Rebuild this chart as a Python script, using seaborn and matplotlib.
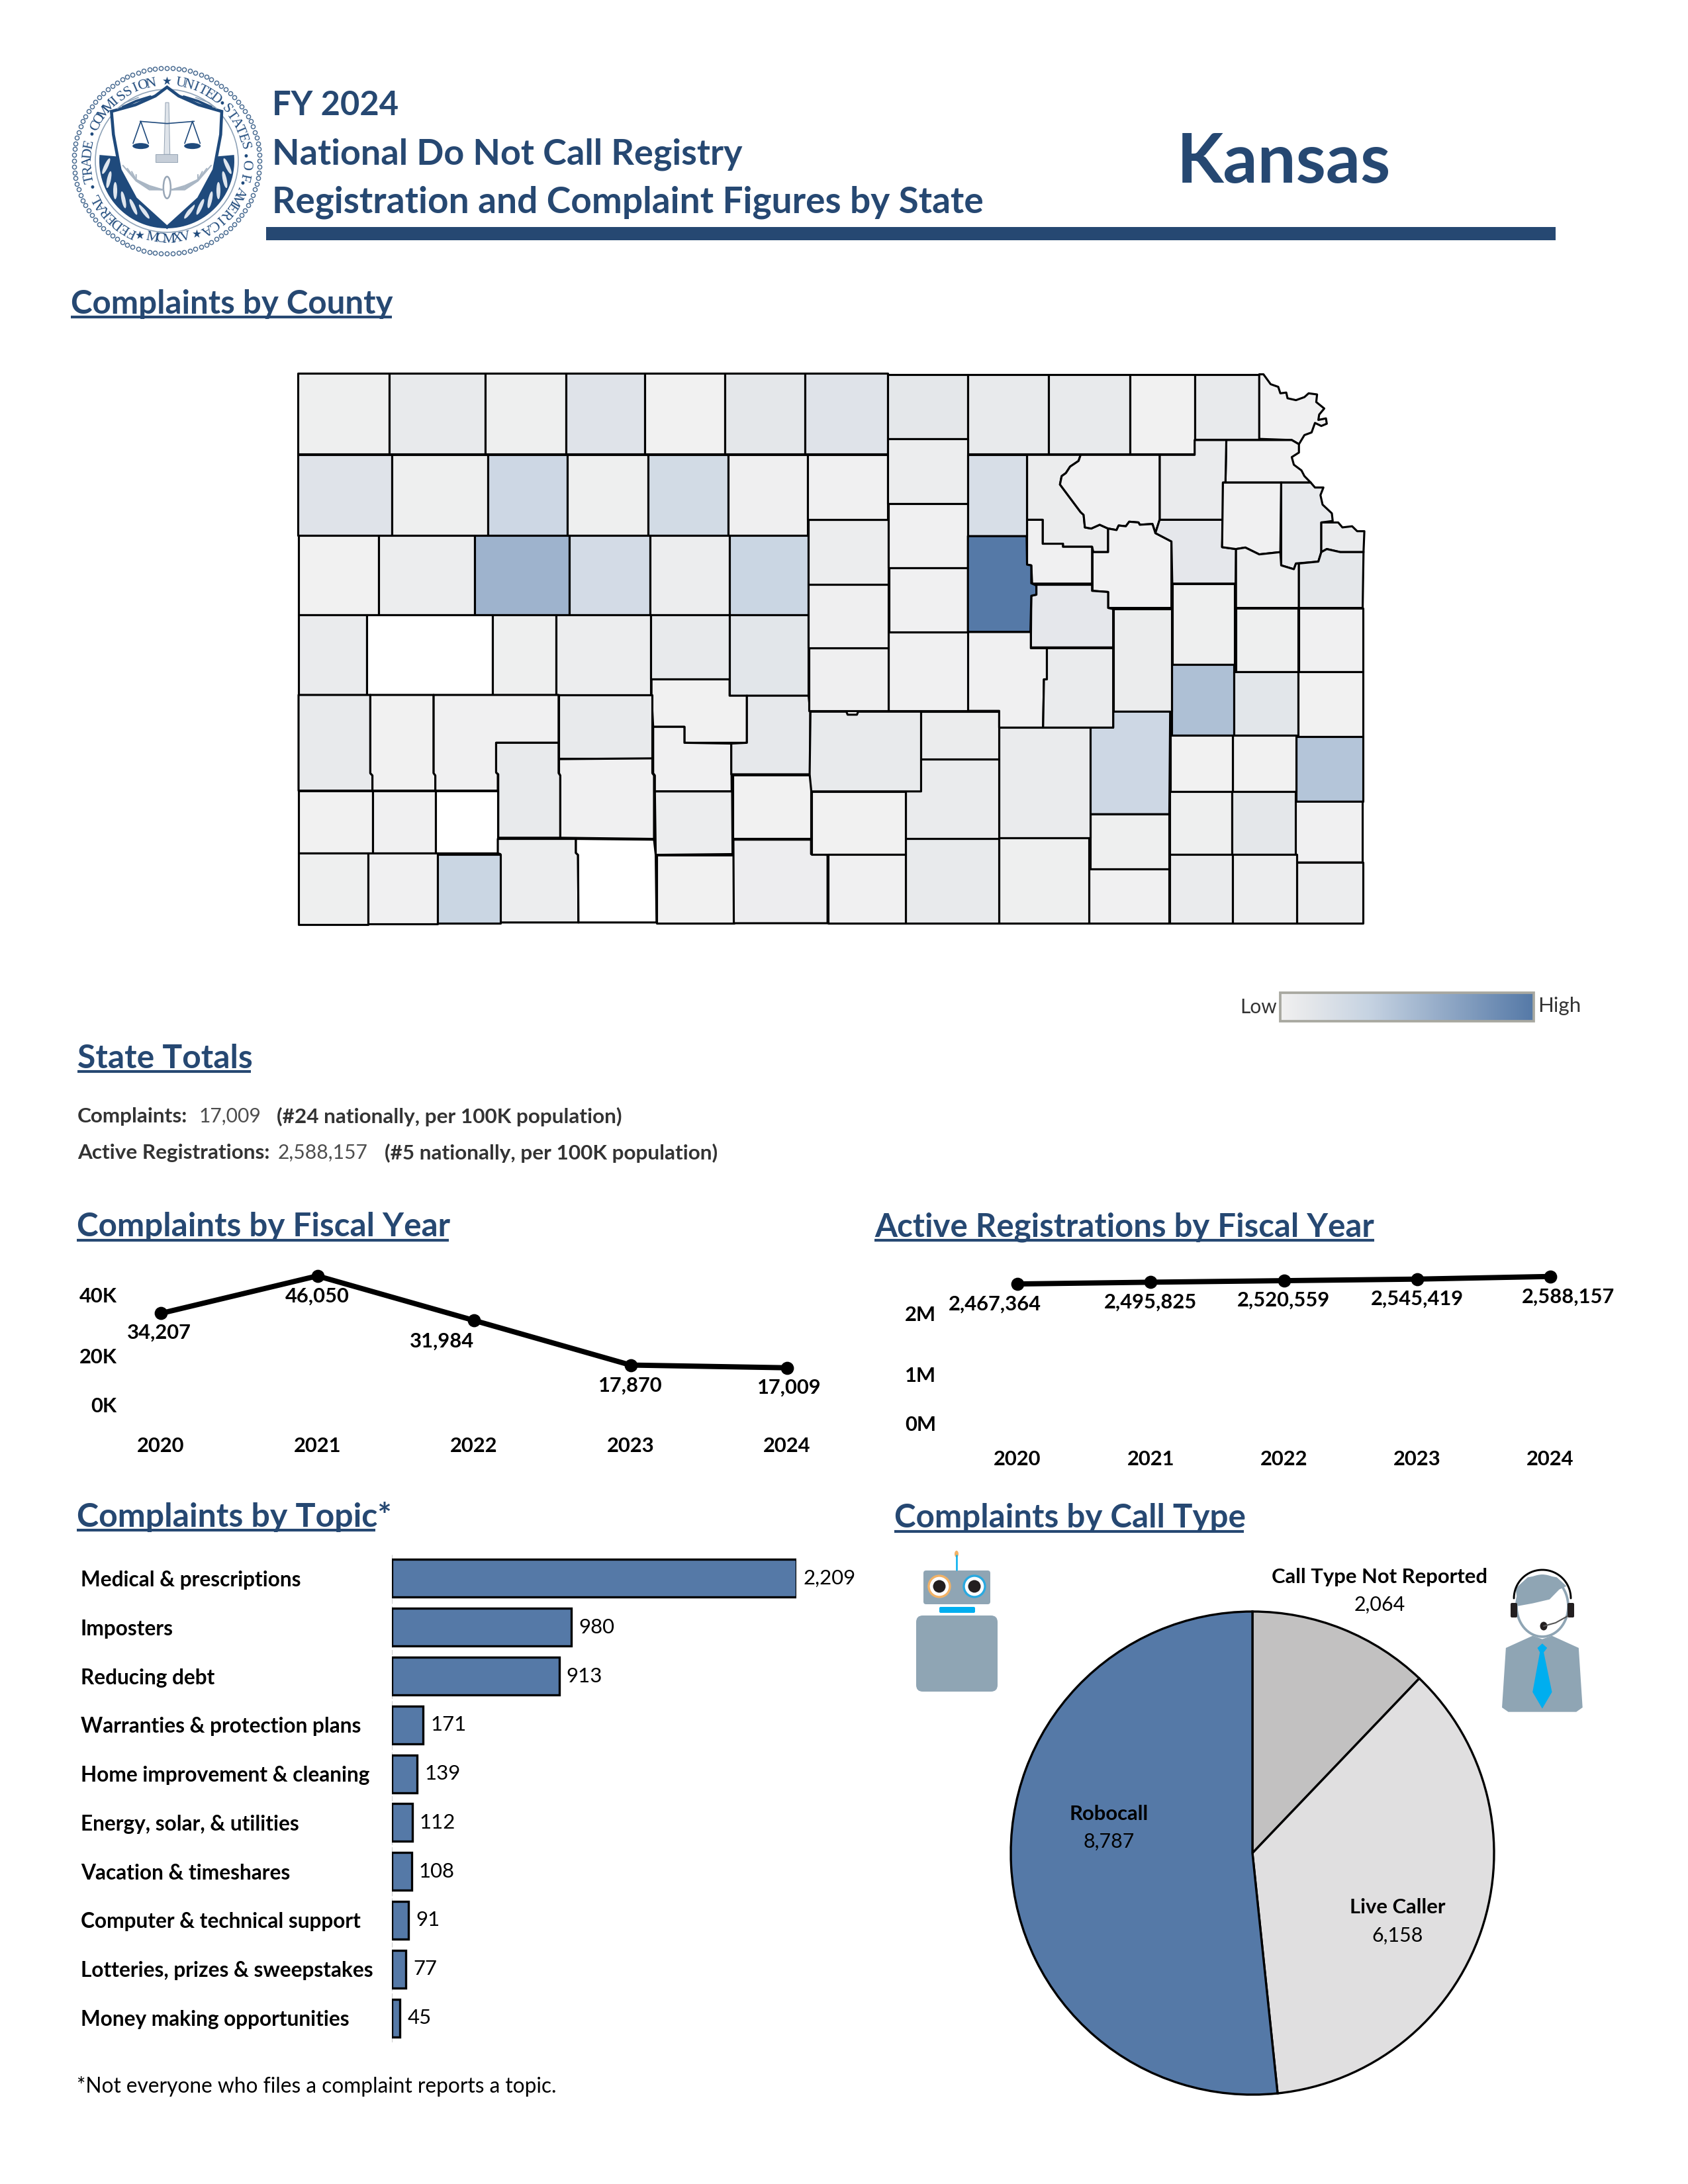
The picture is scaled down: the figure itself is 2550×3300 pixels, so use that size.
import numpy as np
import pandas as pd
import seaborn as sns
import matplotlib.pyplot as plt
from matplotlib.collections import PolyCollection
from matplotlib.colors import LinearSegmentedColormap, Normalize
from matplotlib.font_manager import FontProperties
from matplotlib.patches import Circle, Ellipse, FancyBboxPatch, Polygon, Rectangle
from matplotlib.textpath import TextPath
from matplotlib.transforms import ScaledTranslation

# data
years = [2020, 2021, 2022, 2023, 2024]
complaints_by_year = [34207, 46050, 31984, 17870, 17009]
registrations_by_year = [2467364, 2495825, 2520559, 2545419, 2588157]
topics = ['Medical & prescriptions', 'Imposters', 'Reducing debt', 'Warranties & protection plans',
          'Home improvement & cleaning', 'Energy, solar, & utilities', 'Vacation & timeshares',
          'Computer & technical support', 'Lotteries, prizes & sweepstakes', 'Money making opportunities']
topic_counts = [2209, 980, 913, 171, 139, 112, 108, 91, 77, 45]
call_types = ['Call Type Not Reported', 'Live Caller', 'Robocall']
call_counts = [2064, 6158, 8787]

NAVY = '#264872'
BLUE = '#5579a7'
DPI = 300


def R(x0, y0, x1, y1):
    return [(x0, y0), (x1, y0), (x1, y1), (x0, y1)]


# county shapes as (shade, outline), traced in two crops of the page
nan = np.nan
west_counties = [
    (.03, R(78, 60, 295, 272)), (.08, R(295, 60, 522, 272)), (.03, R(522, 60, 713, 272)),
    (.16, R(713, 60, 900, 272)), (.005, R(900, 60, 1090, 272)), (.12, R(1090, 60, 1280, 272)),
    (.16, R(1280, 60, 1475, 272)),
    (.16, R(78, 274, 301, 486)), (.03, R(301, 274, 528, 486)), (.3, R(528, 274, 717, 486)),
    (.03, R(717, 274, 908, 486)), (.26, R(908, 274, 1097, 486)), (.02, R(1097, 274, 1286, 486)),
    (0, R(80, 486, 270, 696)), (.045, R(270, 486, 497, 696)), (.58, R(497, 486, 722, 696)),
    (.25, R(722, 486, 912, 696)), (.05, R(912, 486, 1100, 696)), (.32, R(1100, 486, 1287, 696)),
    (.07, R(80, 696, 242, 906)), (nan, R(242, 696, 540, 906)), (.03, R(540, 696, 690, 906)),
    (.05, R(690, 696, 914, 906)), (.08, R(914, 696, 1101, 865)), (.13, R(1101, 696, 1288, 908)),
    (.005, [(916, 865), (1101, 865), (1101, 908), (1142, 908), (1142, 1032), (994, 1032), (994, 990), (920, 990), (916, 906)]),
    (.08, [(80, 906), (250, 906), (250, 1112), (255, 1118), (255, 1158), (80, 1158)]),
    (.005, [(250, 906), (400, 906), (400, 1112), (404, 1118), (404, 1158), (255, 1158), (255, 1118), (250, 1112)]),
    (.01, [(400, 906), (696, 906), (696, 1032), (548, 1032), (548, 1110), (552, 1115), (552, 1158), (404, 1158), (404, 1118), (400, 1112)]),
    (.08, [(548, 1032), (696, 1032), (696, 1112), (700, 1118), (700, 1282), (553, 1282), (553, 1115), (548, 1110)]),
    (.08, R(696, 906, 918, 1073)),
    (.01, [(697, 1075), (918, 1073), (918, 1112), (922, 1118), (922, 1285), (700, 1282), (700, 1118), (697, 1112)]),
    (.01, [(920, 990), (994, 990), (994, 1032), (1105, 1034), (1106, 1160), (924, 1160), (924, 1118), (920, 1112)]),
    (.1, [(1142, 908), (1288, 908), (1292, 950), (1292, 1115), (1105, 1115), (1105, 1034), (1142, 1032)]),
    (.05, [(924, 1160), (1107, 1160), (1108, 1325), (926, 1327)]),
    (0, R(1108, 1117, 1294, 1284)),
    (0, R(80, 1158, 255, 1323)), (.01, R(255, 1158, 404, 1323)), (nan, R(404, 1158, 552, 1323)),
    (.045, [(552, 1285), (737, 1285), (737, 1322), (742, 1327), (743, 1505), (558, 1505), (558, 1325), (552, 1323)]),
    (nan, [(737, 1285), (922, 1287), (926, 1327), (928, 1505), (743, 1505), (742, 1327), (737, 1322)]),
    (.03, R(80, 1323, 245, 1510)), (.01, R(245, 1323, 410, 1508)), (.32, R(410, 1325, 558, 1507)),
    (.005, R(928, 1327, 1111, 1507)),
    (.04, [(1110, 1287), (1294, 1287), (1294, 1325), (1333, 1327), (1333, 1507), (1111, 1507)]),
]
east_counties = [
    (.12, R(378, 62, 568, 232)), (.08, R(568, 62, 759, 272)), (.08, R(759, 62, 951, 272)),
    (.005, R(951, 62, 1105, 272)), (.08, R(1105, 62, 1258, 234)),
    (.01, [(1258, 62), (1268, 62), (1285, 88), (1303, 95), (1308, 112), (1322, 110), (1325, 125), (1345, 130), (1365, 122),
           (1375, 112), (1395, 115), (1393, 135), (1412, 152), (1400, 168), (1398, 182), (1416, 178), (1418, 192), (1405, 198),
           (1390, 190), (1382, 215), (1365, 222), (1352, 246), (1335, 235), (1258, 232)]),
    (.01, [(1180, 235), (1335, 235), (1352, 246), (1352, 268), (1335, 280), (1340, 300), (1358, 315), (1365, 330), (1380, 347), (1178, 347)]),
    (.07, [(1022, 274), (1105, 274), (1105, 235), (1180, 235), (1178, 347), (1172, 347), (1172, 445), (1022, 445)]),
    (.06, [(708, 274), (835, 274), (830, 290), (810, 305), (800, 322), (790, 330), (786, 352), (835, 425), (842, 432), (845, 465),
           (860, 468), (880, 458), (900, 468), (900, 530), (865, 530), (862, 516), (793, 516), (793, 508), (745, 508), (745, 445), (708, 445)]),
    (.01, [(835, 274), (1022, 274), (1022, 445), (1012, 480), (1005, 456), (975, 458), (972, 452), (950, 450), (942, 462), (925, 460),
           (920, 472), (900, 468), (880, 458), (860, 468), (845, 465), (842, 432), (835, 425), (786, 352), (790, 330), (800, 322), (810, 305), (830, 290)]),
    (.01, [(900, 468), (920, 472), (925, 460), (942, 462), (950, 450), (972, 452), (975, 458), (1005, 456), (1012, 480), (1050, 502),
           (1050, 677), (900, 677), (900, 635), (863, 632), (863, 530), (900, 530)]),
    (.01, [(708, 445), (745, 445), (745, 508), (793, 508), (793, 516), (862, 516), (862, 613), (720, 613), (718, 565), (708, 563)]),
    (.11, [(720, 616), (862, 616), (862, 632), (900, 635), (900, 677), (912, 680), (912, 781), (717, 781), (718, 645), (730, 642), (730, 618)]),
    (.11, [(1022, 445), (1172, 445), (1170, 517), (1203, 522), (1202, 613), (1052, 613), (1050, 502), (1012, 480)]),
    (.01, [(1172, 347), (1310, 347), (1308, 530), (1258, 536), (1225, 518), (1203, 522), (1170, 517)]),
    (.09, [(1310, 347), (1380, 347), (1390, 360), (1410, 360), (1403, 380), (1408, 405), (1430, 428), (1432, 448), (1405, 452),
           (1405, 530), (1398, 555), (1345, 560), (1340, 575), (1310, 565)]),
    (.07, [(1405, 452), (1445, 452), (1455, 465), (1478, 462), (1490, 475), (1507, 475), (1505, 530), (1450, 530), (1418, 522), (1405, 530)]),
    (.05, [(1203, 522), (1225, 518), (1258, 536), (1308, 530), (1310, 565), (1340, 575), (1345, 560), (1352, 560), (1352, 677), (1203, 677)]),
    (.12, [(1352, 560), (1398, 555), (1405, 530), (1418, 522), (1450, 530), (1505, 530), (1503, 677), (1352, 677)]),
    (.03, R(1052, 613, 1200, 825)), (.49, R(1050, 825, 1198, 1012)), (.03, R(1203, 677, 1350, 845)),
    (.01, R(1352, 677, 1503, 845)), (.13, R(1198, 845, 1350, 1012)), (.005, R(1350, 845, 1503, 1015)),
    (.45, R(1345, 1015, 1503, 1187)),
    (.01, [(1343, 1187), (1503, 1187), (1503, 1347), (1347, 1347), (1343, 1325)]),
    (.05, R(1347, 1347, 1503, 1507)), (.005, R(1195, 1012, 1345, 1160)), (.005, R(1047, 1012, 1195, 1160)),
    (.03, R(1046, 1160, 1193, 1325)), (.12, R(1193, 1160, 1343, 1325)), (.07, R(1046, 1325, 1195, 1507)),
    (.05, R(1195, 1325, 1347, 1507)), (.06, R(912, 680, 1050, 950)),
    (.3, [(912, 950), (1047, 950), (1045, 1220), (857, 1220), (857, 992), (912, 992)]),
    (.03, R(857, 1220, 1045, 1365)), (.01, R(855, 1365, 1045, 1507)), (.07, R(642, 992, 857, 1282)),
    (.03, R(642, 1282, 855, 1507)), (.08, R(421, 1284, 642, 1507)), (.07, R(420, 1075, 642, 1284)),
    (.06, R(457, 950, 642, 1075)),
    (.08, [(195, 950), (280, 950), (283, 958), (305, 958), (308, 950), (457, 950), (457, 1160), (197, 1160), (193, 1115)]),
    (0, R(197, 1160, 420, 1325)), (.01, R(237, 1325, 421, 1507)),
    (.01, [(568, 740), (717, 740), (717, 783), (755, 783), (755, 865), (748, 865), (746, 992), (642, 992), (642, 948), (568, 948)]),
    (.07, [(755, 783), (912, 783), (912, 992), (746, 992), (748, 865), (755, 865)]),
    (.01, R(380, 740, 568, 948)), (.02, R(192, 783, 380, 948)), (.02, R(190, 615, 380, 783)),
    (.05, R(190, 445, 380, 615)), (.01, R(188, 274, 378, 445)), (.05, R(378, 232, 568, 402)),
    (.01, R(380, 402, 568, 572)), (.01, R(381, 572, 568, 740)), (.22, R(568, 274, 707, 488)),
    (1, [(568, 488), (707, 488), (708, 563), (718, 565), (718, 612), (730, 618), (730, 642), (718, 645), (716, 740), (568, 740)]),
]

sns.set_theme(style='white')
plt.rcParams['font.family'] = ['Lato', 'DejaVu Sans']

fig = plt.figure(figsize=(8.5, 11), dpi=DPI)


def ax_px(x0, y0, x1, y1):
    # axes from page pixels
    return fig.add_axes([x0 / 2550, 1 - y1 / 3300, (x1 - x0) / 2550, (y1 - y0) / 3300])


def fit(s, px, weight='bold'):
    # font size that makes the string px wide
    fp = FontProperties(family='Lato', weight=weight)
    w = TextPath((0, 0), s, size=10, prop=fp).get_extents().width
    return 10 * px * 72 / DPI / w


page = fig.add_axes([0, 0, 1, 1], zorder=10)
page.set_xlim(0, 2550)
page.set_ylim(3300, 0)
page.axis('off')


def put(x, y, s, size, weight='normal', color='black', ha='left', **kw):
    return page.text(x, y, s, fontsize=size, fontweight=weight, color=color, ha=ha, va='center', **kw)


def heading(s, x, y, width, ul=None):
    put(x, y, s, fit(s, width), 'bold', NAVY)
    page.plot([x, x + (ul or width)], [y + 20, y + 20], color=NAVY, lw=1.0, solid_capstyle='butt')


# ---- header
put(411, 159, 'FY 2024', fit('FY 2024', 186), 'bold', NAVY)
put(411, 233, 'National Do Not Call Registry', fit('National Do Not Call Registry', 706), 'bold', NAVY)
put(411, 306, 'Registration and Complaint Figures by State', fit('Registration and Complaint Figures by State', 1070), 'bold', NAVY)
put(1778, 246, 'Kansas', fit('Kansas', 312), 'bold', NAVY)
page.add_patch(Rectangle((402, 343), 1948, 20, color=NAVY, lw=0))

# ---- seal
SEAL = '#1f4a7c'
cx, cy = 252, 243
beads = np.radians(np.arange(0, 360, 3.6))
page.scatter(cx + 140 * np.sin(beads), cy + 140 * np.cos(beads), s=2.2, fc='white', ec='#45688f', lw=0.35)
page.add_patch(Circle((cx, cy), 108, fc='none', ec='#8fa3b8', lw=0.4))


def seal_word(word, start, step, r=119):
    for i, ch in enumerate(word):
        th = start + i * step
        a = np.radians(th)
        rot = 180 - th if step < 0 else -th
        page.text(cx + r * np.sin(a), cy - r * np.cos(a), ch, fontsize=5.2, family='Liberation Serif',
                  color=SEAL, ha='center', va='center', rotation=rot, rotation_mode='anchor')


seal_word('FEDERAL', 206, 6)
seal_word('TRADE', 257, 6.2)
seal_word('COMMISSION', 296, 5.8)
seal_word('UNITED', 10, 5.6)
seal_word('STATES', 49, 6)
seal_word('OF', 93, 9)
seal_word('AMERICA', 113, 6.2)
seal_word('MCMXV', 191, -6.2)
for th, mark in [(0, '★'), (158, '★'), (200, '★'), (44, '•'), (87, '•'), (107, '•'), (250, '•'), (289, '•')]:
    a = np.radians(th)
    page.text(cx + 120 * np.sin(a), cy - 120 * np.cos(a), mark, fontsize=4, color=SEAL, ha='center', va='center',
              family='DejaVu Sans')


def sz(pts):
    # seal crop to page
    return [(100 + x / 3, 90 + y / 3) for x, y in pts]


# dark band and leaves behind the shield
band = np.radians(np.linspace(85, 275, 60))
page.add_patch(Polygon([(cx, cy)] + list(zip(cx + 102 * np.sin(band), cy - 102 * np.cos(band))), fc=SEAL, ec='none'))
for side in (-1, 1):
    for th, rr in [(95, 92), (108, 92), (120, 90), (132, 88), (144, 86), (156, 84), (168, 84)]:
        a = np.radians(th)
        page.add_patch(Ellipse((cx + side * rr * np.sin(a), cy - rr * np.cos(a)), 26, 6,
                               angle=side * (th - 30), fc='#dfe6ee', ec='none'))
    page.plot(*zip(*sz([(457 + side * 75, 168), (457 + side * 140, 188), (457 + side * 200, 215)])), color=SEAL, lw=0.9)
    page.plot(*zip(*sz([(457 + side * 130, 172), (457 + side * 190, 195), (457 + side * 225, 222)])), color='#8fa3b8', lw=0.4)
page.add_patch(Polygon(sz([(457, 125), (510, 165), (600, 205), (705, 235), (700, 340), (670, 500), (600, 630), (457, 760),
                           (314, 630), (244, 500), (214, 340), (205, 235), (314, 205), (404, 165)]),
                       fc='white', ec=SEAL, lw=1.1, joinstyle='miter'))
# scales
page.add_patch(Polygon(sz([(450, 195), (465, 195), (470, 430), (444, 430)]), fc='#dfe4ea', ec='#98a6b6', lw=0.25))
page.add_patch(Rectangle(sz([(405, 430)])[0], 33, 12, fc='#c6ced8', ec='#98a6b6', lw=0.25))
page.plot(*zip(*sz([(335, 280), (457, 290), (580, 280)])), color=SEAL, lw=0.4)
for x_ in (338, 572):
    page.plot(*zip(*sz([(x_ - 35, 380), (x_, 280), (x_ + 35, 380)])), color=SEAL, lw=0.4)
    page.add_patch(Ellipse(sz([(x_, 392)])[0], 25, 9, fc=SEAL, ec='none'))
# wings
for side in (-1, 1):
    for k in range(4):
        wx = 457 + side * np.array([20, 80, 140, 200 - k * 20])
        wy = np.array([590, 560 - k * 6 + 30, 540 - k * 2 + 10, 480 + k * 14])
        page.plot(*zip(*sz(list(zip(wx, wy)))), color='#a9b6c4', lw=0.5)
page.add_patch(Ellipse(sz([(457, 580)])[0], 11, 33, fc='none', ec='#98a6b6', lw=0.6))

# ---- county map
heading('Complaints by County', 107, 459, 485)
FX, FY = 1000 / 1568, 900 / 1568
polys = [[(400 + FX * x, 530 + FY * y) for x, y in p] for _, p in west_counties]
polys += [[(1100 + FX * x, 530 + FY * y) for x, y in p] for _, p in east_counties]
shades = [s for s, _ in west_counties] + [s for s, _ in east_counties]
cmap = LinearSegmentedColormap.from_list('ftc', [(0, '#f1f1f1'), (.1, '#e6e8eb'), (.35, '#c6d3e2'), (1, BLUE)])
cmap.set_bad('white')
page.add_collection(PolyCollection(polys, array=np.array(shades), cmap=cmap, norm=Normalize(0, 1),
                                   edgecolors='black', linewidths=0.75, zorder=1))

# legend of the map
page.imshow(np.linspace(0, 1, 256).reshape(1, -1), cmap=cmap, extent=(1934, 2317, 1543, 1500), aspect='auto', zorder=2)
page.set_xlim(0, 2550)
page.set_ylim(3300, 0)
page.add_patch(Rectangle((1934, 1500), 383, 43, fc='none', ec='#a8a8a0', lw=0.9, zorder=3))
put(1873, 1522, 'Low', fit('Low', 54), 'normal', '#333333')
put(2323, 1520, 'High', fit('High', 62), 'normal', '#333333')

# ---- state totals
heading('State Totals', 117, 1599, 262)
tb = fit('(#24 nationally, per 100K population)', 519)
tv = fit('2,588,157', 134)
put(117, 1687, 'Complaints:', tb, 'bold', '#333333')
put(301, 1687, '17,009', tv, 'normal', '#4d4d4d')
put(418, 1687, '(#24 nationally, per 100K population)', tb, 'bold', '#333333')
put(117, 1742, 'Active Registrations:', tb, 'bold', '#333333')
put(420, 1742, '2,588,157', tv, 'normal', '#4d4d4d')
put(581, 1742, '(#5 nationally, per 100K population)', tb, 'bold', '#333333')

# ---- complaints by year
heading('Complaints by Fiscal Year', 116, 1854, 562)
heading('Active Registrations by Fiscal Year', 1321, 1854, 755)
small = fit('2,467,364', 138)


def year_line(ax, values, ticks, tick_names, ypad, xpad, labels, offsets, lifts):
    sns.lineplot(x=years, y=values, ax=ax, color='black', lw=1.9, marker='o', ms=4, mec='black', errorbar=None,
                 clip_on=False)
    ax.set_xlim(2020, 2024)
    ax.set_xticks(years, [str(y) for y in years], fontsize=small, fontweight='bold', color='black')
    ax.set_yticks(ticks, tick_names, fontsize=small, fontweight='bold', color='black')
    ax.tick_params(axis='x', length=0, pad=xpad)
    ax.tick_params(axis='y', length=0, pad=ypad)
    ax.set_xlabel('')
    ax.set_ylabel('')
    ax.patch.set_alpha(0)
    sns.despine(ax=ax, left=True, bottom=True)
    # the tick labels sit a little off their levels in the reference
    for lab, lift in zip(ax.get_yticklabels(), lifts):
        lab.set_transform(lab.get_transform() + ScaledTranslation(0, lift / DPI, fig.dpi_scale_trans))
    for yr, v, lb, (dx, dy) in zip(years, values, labels, offsets):
        ax.annotate(lb, (yr, v), xytext=(dx * 72 / DPI, -dy * 72 / DPI), textcoords='offset points', ha='center',
                    va='center', fontsize=small, fontweight='bold', color='black', annotation_clip=False)


ax1 = ax_px(243, 1909, 1189, 2148)
ax1.set_ylim(0, 50000)
year_line(ax1, complaints_by_year, [40000, 20000, 0], ['40K', '20K', '0K'], 16, 5.5,
          [f'{v:,}' for v in complaints_by_year],
          [(-3, 29), (0, 31), (-49, 31), (0, 31), (3, 30)], [0, 4, 25])
ax1.set_ylim(0, 50000)

ax2 = ax_px(1537, 1890, 2342, 2172)
ax2.set_ylim(0, 3000000)
year_line(ax2, registrations_by_year, [2000000, 1000000, 0], ['2M', '1M', '0M'], 29.5, 4.5,
          [f'{v:,}' for v in registrations_by_year],
          [(-34, 31), (0, 30), (-1, 30), (0, 30), (27, 31)], [0, 2, 21])
ax2.set_ylim(0, 3000000)

# ---- topics
heading('Complaints by Topic*', 116, 2292, 472, ul=451)
df_topics = pd.DataFrame({'topic': topics, 'count': topic_counts})
ax3 = ax_px(592, 2348, 1203, 3086)
ax3.axvline(0, color='#cccccc', lw=0.5, ls='--', zorder=0)
sns.barplot(data=df_topics, y='topic', x='count', color=BLUE, saturation=1, edgecolor='black', linewidth=0.8,
            width=.77, ax=ax3)
ax3.set_xlim(0, 2209)
ax3.set_ylim(9.5, -.5)
ax3.set_xlabel('')
ax3.set_ylabel('')
ax3.set_xticks([])
ax3.patch.set_alpha(0)
sns.despine(ax=ax3, left=True, bottom=True)
tsize = fit('Warranties & protection plans', 423)
ax3.tick_params(axis='y', length=0, pad=(592 - 122) * 72 / DPI)
for lab in ax3.get_yticklabels():
    lab.set_ha('left')
    lab.set_fontsize(tsize)
    lab.set_fontweight('bold')
    lab.set_color('black')
ax3.bar_label(ax3.containers[0], fmt='{:,.0f}', padding=2.6, fontsize=fit('2,209', 76, 'normal'), color='black',
              clip_on=False)

put(116, 3152, '*Not everyone who files a complaint reports a topic.',
    fit('*Not everyone who files a complaint reports a topic.', 720, 'normal'))

# ---- call type pie
heading('Complaints by Call Type', 1351, 2294, 528)
ax4 = ax_px(1892 - 365, 2800 - 365, 1892 + 365, 2800 + 365)
ax4.pie(call_counts, colors=['#c2c1c1', '#e0dfe0', BLUE], startangle=90, counterclock=False, radius=1,
        wedgeprops=dict(edgecolor='black', linewidth=0.8), frame=False)
ax4.set_xlim(-1, 1)
ax4.set_ylim(-1, 1)
for a in ax4.patches:
    a.set_clip_on(False)

pb = fit('Call Type Not Reported', 323)
pv = fit('2,064', 75, 'normal')
label_at = [(2084, 2383, 2425), (2111, 2882, 2925), (1675, 2741, 2783)]
for name, val, (lx, y1, y2) in zip(call_types, call_counts, label_at):
    put(lx, y1, name, pb, 'bold', ha='center')
    put(lx, y2, f'{val:,}', pv, 'normal', ha='center')


# ---- icons
def ip(pts):
    # icon crop to page
    return [(1300 + .733 * x, 2220 + y / 3) for x, y in pts]


SLATE = '#8fa5b4'
CYAN = '#00aeef'
# robot
page.plot([1445, 1445], [2350, 2372], color=CYAN, lw=0.6)
page.add_patch(Ellipse((1445, 2348), 6, 10, fc='#f2b266', ec='none'))
page.add_patch(FancyBboxPatch((1399, 2377), 93, 43, boxstyle='round,pad=4', fc=SLATE, ec='none'))
for ex, ring in ((1419, '#f2b266'), (1472, '#29a9e0')):
    page.add_patch(Circle((ex, 2397), 16, fc='white', ec=ring, lw=0.8))
    page.add_patch(Circle((ex, 2397), 9.5, fc='#231f20', ec='none'))
page.add_patch(FancyBboxPatch((1421, 2430), 50, 5, boxstyle='round,pad=2', fc=CYAN, ec='none'))
page.add_patch(FancyBboxPatch((1394, 2451), 103, 95, boxstyle='round,pad=10', fc=SLATE, ec='none'))
# caller
page.add_patch(Polygon(ip([(1385, 755), (1405, 770), (1425, 755), (1480, 810), (1488, 1080), (1475, 1100), (1335, 1100),
                           (1322, 1080), (1330, 810)]), fc=SLATE, ec='none'))
page.add_patch(Polygon(ip([(1395, 810), (1405, 790), (1415, 810), (1408, 830), (1425, 1010), (1405, 1085), (1385, 1010),
                           (1400, 830)]), fc=CYAN, ec='none'))
page.add_patch(Ellipse((2330, 2427), 78, 92, fc='white', ec=SLATE, lw=0.9))
page.add_patch(Polygon(ip([(1355, 620), (1350, 540), (1375, 490), (1405, 478), (1435, 490), (1455, 530), (1440, 545),
                           (1420, 590), (1385, 608)]), fc=SLATE, ec='none'))
arc = np.radians(np.linspace(180, 360, 40))
page.plot(2330 + 43 * np.cos(arc), 2415 + 43 * np.sin(arc), color='black', lw=0.7)
for ex in (2287, 2373):
    page.add_patch(FancyBboxPatch((ex - 3, 2424), 6, 18, boxstyle='round,pad=2', fc='#231f20', ec='none'))
page.plot([2332, 2350, 2368], [2457, 2452, 2442], color='#555555', lw=0.5)
page.add_patch(Ellipse((2332, 2457), 11, 13, fc='#231f20', ec='none'))

fig.savefig('out.png', dpi=DPI)
